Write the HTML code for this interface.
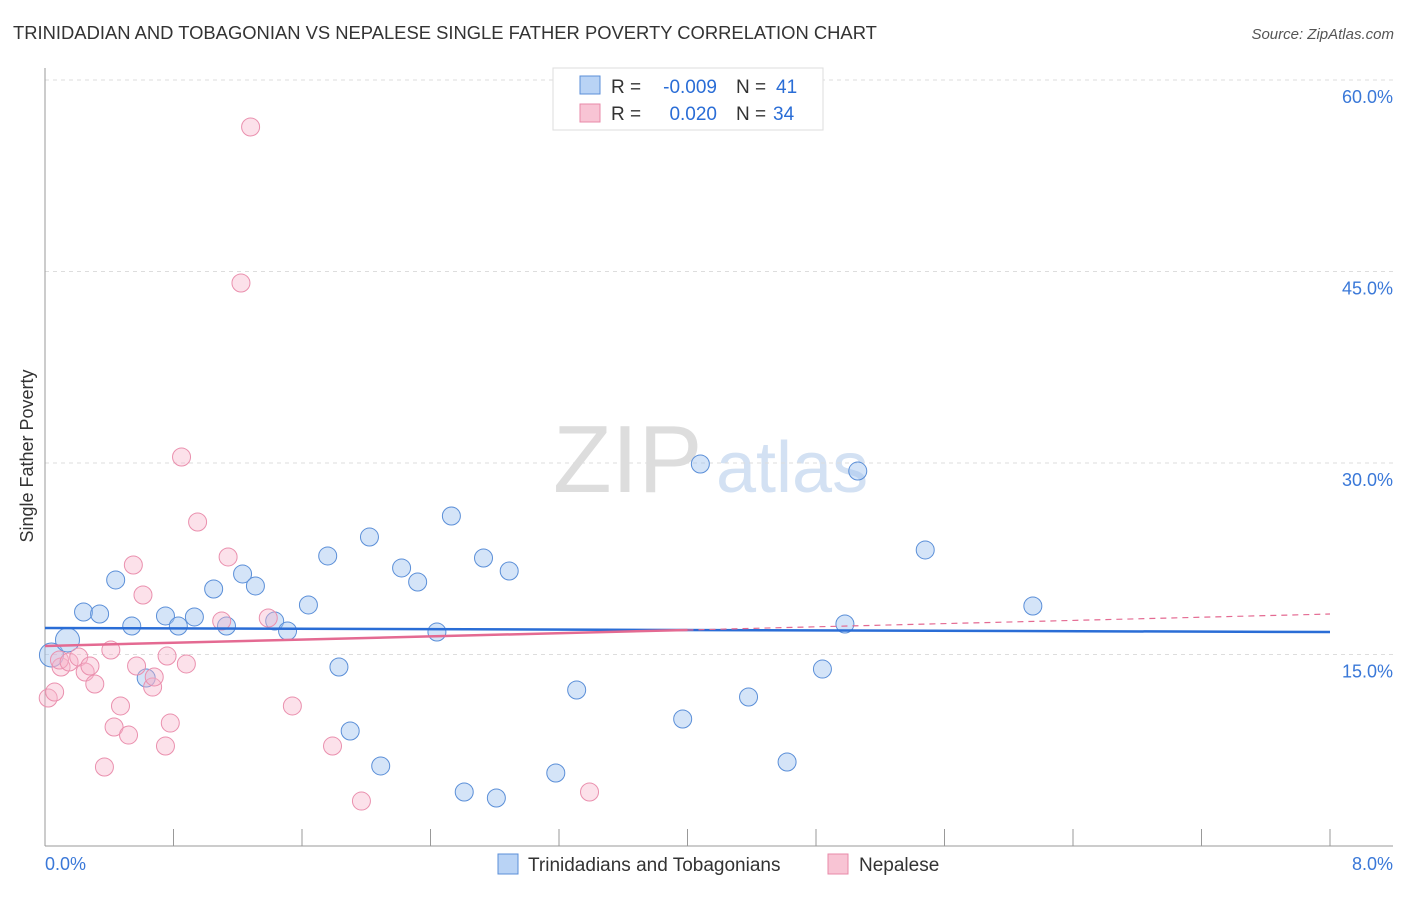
<!DOCTYPE html>
<html><head><meta charset="utf-8"><style>
body{margin:0;background:#fff;font-family:"Liberation Sans",sans-serif}
svg text{font-family:"Liberation Sans",sans-serif}
</style></head><body>
<svg id="c" width="1406" height="892">
<text x="13" y="39" font-size="18.4" fill="#333">TRINIDADIAN AND TOBAGONIAN VS NEPALESE SINGLE FATHER POVERTY CORRELATION CHART</text>
<text x="1394" y="39" font-size="15" fill="#555" font-style="italic" text-anchor="end">Source: ZipAtlas.com</text>
<text x="33" y="456" font-size="18" fill="#333" text-anchor="middle" transform="rotate(-90 33 456)">Single Father Poverty</text>
<text x="553" y="492" font-size="96" fill="#ddd" font-family="Liberation Serif">ZIP</text>
<text x="716" y="492" font-size="72" fill="#d3e1f3">atlas</text>
<g id="grid"></g><g id="axes"></g><g id="pts"></g><g id="lines"></g>
<g>
<rect x="553" y="68" width="270" height="62" fill="#fff" stroke="#ddd"/>
<rect x="580" y="76" width="20" height="18" fill="#b9d3f5" stroke="#5b8fd8"/>
<rect x="580" y="104" width="20" height="18" fill="#f8c4d4" stroke="#e88aa8"/>
<text x="611" y="93" font-size="19" fill="#333">R =</text>
<text x="717" y="93" font-size="19" fill="#2a6dd6" text-anchor="end">-0.009</text>
<text x="736" y="93" font-size="19" fill="#333">N =</text>
<text x="776" y="93" font-size="19" fill="#2a6dd6">41</text>
<text x="611" y="120" font-size="19" fill="#333">R =</text>
<text x="717" y="120" font-size="19" fill="#2a6dd6" text-anchor="end">0.020</text>
<text x="736" y="120" font-size="19" fill="#333">N =</text>
<text x="773" y="120" font-size="19" fill="#2a6dd6">34</text>
</g>
<g>
<rect x="498" y="854" width="20" height="20" fill="#b9d3f5" stroke="#5b8fd8"/>
<text x="528" y="871" font-size="19" fill="#333">Trinidadians and Tobagonians</text>
<rect x="828" y="854" width="20" height="20" fill="#f8c4d4" stroke="#e88aa8"/>
<text x="859" y="871" font-size="19" fill="#333">Nepalese</text>
</g>
</svg>
<script>
const yTicks=[15,30,45,60];
const xTickLabels=["0.0%","8.0%"];
const blueX=[0.04,0.14,0.24,0.34,0.44,0.54,0.63,0.75,0.83,0.93,1.05,1.13,1.23,1.31,1.43,1.51,1.64,1.76,1.83,1.90,2.02,2.09,2.22,2.32,2.44,2.53,2.61,2.73,2.81,2.89,3.18,3.31,3.97,4.08,4.38,4.62,4.84,4.98,5.06,5.48,6.15];
const blueY=[14.96,16.14,18.33,18.17,20.84,17.23,13.16,18.02,17.23,17.94,20.13,17.23,21.31,20.37,17.62,16.84,18.88,22.72,14.02,9.01,24.20,6.27,21.78,20.68,16.76,25.85,4.23,22.56,3.76,21.54,5.72,12.22,9.95,29.92,11.67,6.58,13.86,17.39,29.37,23.19,18.80];
const pinkX=[0.02,0.06,0.10,0.09,0.15,0.21,0.25,0.28,0.31,0.37,0.41,0.43,0.47,0.52,0.55,0.57,0.61,0.67,0.68,0.75,0.76,0.78,0.85,0.88,0.95,1.10,1.14,1.22,1.28,1.39,1.54,1.79,1.97,3.39];
const pinkY=[11.59,12.06,14.02,14.57,14.41,14.80,13.63,14.10,12.69,6.19,15.35,9.32,10.97,8.69,22.01,14.10,19.66,12.45,13.24,7.83,14.88,9.63,30.47,14.26,25.38,17.62,22.64,44.10,56.32,17.86,10.97,7.83,3.52,4.23];
const blueLine=[17.08,16.76];
const pinkLine=[15.67,18.17];
const pinkSolidEnd=4.0;
const X=v=>45+v/8*1285, Y=v=>846-v/15*191.5;
const NS="http://www.w3.org/2000/svg";
function mk(tag,attrs,parent){const e=document.createElementNS(NS,tag);for(const k in attrs)e.setAttribute(k,attrs[k]);document.getElementById(parent).appendChild(e);return e;}
yTicks.forEach(t=>{
 const l=mk('line',{x1:45,x2:1393,y1:Y(t),y2:Y(t),stroke:'#ddd','stroke-dasharray':'4,4'},'grid');
 
 
 const tx=mk('text',{x:1393,y:Y(t)+23,'font-size':18,fill:'#3a78d8','text-anchor':'end'},'grid');
 tx.textContent=t.toFixed(1)+'%';
 
 
});
const ax=mk('line',{x1:45,x2:45,y1:68,y2:846,stroke:'#999'},'axes');


const bx=mk('line',{x1:45,x2:1393,y1:846,y2:846,stroke:'#999'},'axes');


for(let i=0;i<=10;i++){const t=mk('line',{x1:X(i*0.8),x2:X(i*0.8),y1:829,y2:846,stroke:'#999'},'axes');
 
 }
[[0,'start',45],[8,'end',1393]].forEach((a,i)=>{const t=mk('text',{x:a[2],y:870,'font-size':18,fill:'#3a78d8','text-anchor':a[1]},'axes');t.textContent=xTickLabels[i];
 
 });
blueX.forEach((x,i)=>{const c=mk('circle',{cx:X(x),cy:Y(blueY[i]),r:i<2?12:9,fill:'rgba(160,196,240,0.45)',stroke:'#5b8fd8','stroke-width':1},'pts');
 
 });
pinkX.forEach((x,i)=>{const c=mk('circle',{cx:X(x),cy:Y(pinkY[i]),r:9,fill:'rgba(247,180,202,0.4)',stroke:'#ea90ae','stroke-width':1},'pts');
 
 });
const bl=mk('line',{x1:X(0),x2:X(8),y1:Y(blueLine[0]),y2:Y(blueLine[1]),stroke:'#2a6dd6','stroke-width':2.5},'lines');


const pm=pinkLine[0]+(pinkLine[1]-pinkLine[0])*pinkSolidEnd/8;
const pl=mk('line',{x1:X(0),x2:X(pinkSolidEnd),y1:Y(pinkLine[0]),y2:Y(pm),stroke:'#e46a92','stroke-width':2.5},'lines');


const pd=mk('line',{x1:X(pinkSolidEnd),x2:X(8),y1:Y(pm),y2:Y(pinkLine[1]),stroke:'#e46a92','stroke-width':1.2,'stroke-dasharray':'6,5'},'lines');


</script>
</body></html>
